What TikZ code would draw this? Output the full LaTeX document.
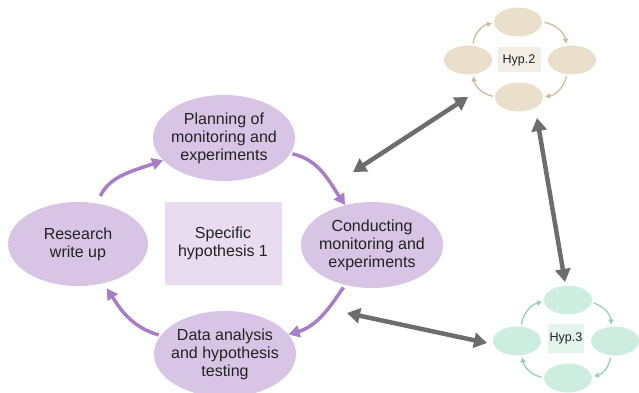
\documentclass[tikz,border=0pt]{standalone}
\usepackage{fontspec}
\setmainfont{Liberation Sans}
\usetikzlibrary{arrows.meta,shapes.geometric}
\definecolor{stagefill}{HTML}{D8C5E5}
\definecolor{specfill}{HTML}{E8DDF0}
\definecolor{cyclearrow}{HTML}{A77FC9}
\definecolor{beigefill}{HTML}{EADFCB}
\definecolor{beigebox}{HTML}{F3EFE7}
\definecolor{beigeline}{HTML}{CDBD9E}
\definecolor{tealfill}{HTML}{CDEDE1}
\definecolor{tealbox}{HTML}{E3F4ED}
\definecolor{tealline}{HTML}{98CFB9}
\definecolor{linkgray}{HTML}{6D6D6D}
\definecolor{ink}{HTML}{222222}

\begin{document}
\begin{tikzpicture}[x=1pt, y=-1pt,
  stage/.style={ellipse, fill=stagefill, minimum width=142pt, minimum height=86pt,
    inner sep=-20pt, align=center, text=ink, font=\fontsize{16}{18}\selectfont},
  cycle/.style={-{Triangle[length=11pt,width=12pt]}, line width=3.5pt, draw=cyclearrow},
  hyp/.style={ellipse, fill=#1, minimum width=48pt, minimum height=29pt, inner sep=0pt},
  hyplabel/.style={fill=#1, text=ink, inner sep=0pt, font=\fontsize{12.5}{14}\selectfont},
  hyparrow/.style={-{Triangle[length=5pt,width=5pt]}, line width=1.3pt, draw=#1, shorten <=2pt, shorten >=2pt},
  link/.style={{Triangle[length=13pt,width=15pt]}-{Triangle[length=13pt,width=15pt]},
    line width=4.5pt, draw=linkgray}]
  \useasboundingbox (0,0) rectangle (639,393);

  % main cycle
  \node[stage] (plan) at (224,138) {Planning of\\monitoring and\\experiments};
  \node[stage] (conduct) at (372,245) {Conducting\\monitoring and\\experiments};
  \node[stage] (analysis) at (225,354) {Data analysis\\and hypothesis\\testing};
  \node[stage, minimum width=140pt, minimum height=84pt] (writeup) at (78,244) {Research\\write up};
  \node[fill=specfill, minimum width=117pt, minimum height=83pt, align=center, text=ink,
    font=\fontsize{16}{18}\selectfont] (spec) at (223,243) {Specific\\hypothesis 1};

  \draw[cycle, shorten <=8pt] (writeup) to[out=65, in=200] (plan);
  \draw[cycle, shorten <=2pt] (plan) to[out=-13, in=124] (conduct);
  \draw[cycle, shorten <=3pt] (conduct) to[out=236, in=17] (analysis);
  \draw[cycle, shorten <=2pt, shorten >=6pt] (analysis) to[out=164, in=-57] (writeup);

  % hypothesis 2
  \node[hyp=beigefill] (h2t) at (518,22) {};
  \node[hyp=beigefill] (h2r) at (572,60) {};
  \node[hyp=beigefill] (h2b) at (519,97) {};
  \node[hyp=beigefill] (h2l) at (468,60) {};
  \node[hyplabel=beigebox, minimum width=43pt, minimum height=25pt] (h2lab) at (519,60) {Hyp.2};
  \draw[hyparrow=beigeline] (h2l) to[bend left=35] (h2t);
  \draw[hyparrow=beigeline] (h2t) to[bend left=35] (h2r);
  \draw[hyparrow=beigeline] (h2r) to[bend left=35] (h2b);
  \draw[hyparrow=beigeline] (h2b) to[bend left=35] (h2l);

  % hypothesis 3
  \node[hyp=tealfill] (h3t) at (568,300) {};
  \node[hyp=tealfill] (h3r) at (615,341) {};
  \node[hyp=tealfill] (h3b) at (568,378) {};
  \node[hyp=tealfill] (h3l) at (517,341) {};
  \node[hyplabel=tealbox, minimum width=36pt, minimum height=29pt] (h3lab) at (566,338) {Hyp.3};
  \draw[hyparrow=tealline] (h3l) to[bend left=35] (h3t);
  \draw[hyparrow=tealline] (h3t) to[bend left=35] (h3r);
  \draw[hyparrow=tealline] (h3r) to[bend left=35] (h3b);
  \draw[hyparrow=tealline] (h3b) to[bend left=35] (h3l);

  % links between hypotheses
  \coordinate (a12) at (353,172);
  \coordinate (a21) at (468,97);
  \coordinate (a23) at (537,118);
  \coordinate (a32) at (565,282);
  \coordinate (a13) at (347,313);
  \coordinate (a31) at (487,343);
  \draw[link] (a12) -- (a21);
  \draw[link] (a23) -- (a32);
  \draw[link] (a13) -- (a31);
\end{tikzpicture}
\end{document}
